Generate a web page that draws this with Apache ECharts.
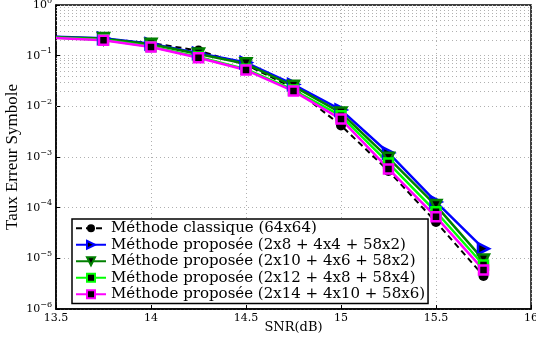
<!DOCTYPE html>
<html>
<head>
<meta charset="utf-8">
<script src="https://cdn.jsdelivr.net/npm/echarts@6/dist/echarts.min.js"></script>
<style>
    html, body { margin: 0; padding: 0; background: #fff; }
    #chart { width: 536px; height: 339px; }
</style>
</head>
<body>
<div id="chart"></div>
<script>
const snr = [13.5, 13.75, 14, 14.25, 14.5, 14.75, 15, 15.25, 15.5, 15.75]
const classique = [0.235, 0.215, 0.178, 0.126, 0.066, 0.023, 0.0042, 5.3e-4, 5.2e-5, 4.5e-6]
const prop1 = [0.235, 0.22, 0.172, 0.112, 0.073, 0.027, 0.0085, 1.2e-3, 1.3e-4, 1.55e-5]
const prop2 = [0.232, 0.217, 0.168, 0.108, 0.069, 0.025, 0.0074, 9.5e-4, 1.1e-4, 9.3e-6]
const prop3 = [0.226, 0.206, 0.152, 0.094, 0.054, 0.021, 0.0065, 7.6e-4, 8.3e-5, 7.4e-6]
const prop4 = [0.222, 0.202, 0.148, 0.091, 0.052, 0.02, 0.0056, 5.8e-4, 6.6e-5, 5.9e-6]
const names = [
    'Méthode classique (64x64)',
    'Méthode proposée (2x8 + 4x4 + 58x2)',
    'Méthode proposée (2x10 + 4x6 + 58x2)',
    'Méthode proposée (2x12 + 4x8 + 58x4)',
    'Méthode proposée (2x14 + 4x10 + 58x6)'
]
const xTicks = ['13.5', '14', '14.5', '15', '15.5', '16']

const serif = 'Liberation Serif'
const wide = 'DejaVu Serif'

// minor log grid lines (2..9 of each decade)
const minorLines = []
for (let k = -6; k < 0; k++) {
    for (let m = 2; m < 10; m++) {
        minorLines.push({ yAxis: m * Math.pow(10, k) })
    }
}

function pts(values) {
    return snr.map((x, i) => i === 0 ? { value: [x, values[i]], symbol: 'none' } : [x, values[i]])
}

function makeSeries(name, values, color, symbol, size, rotate, dashed) {
    return {
        name: name,
        type: 'line',
        data: pts(values),
        symbol: symbol,
        symbolSize: size,
        symbolRotate: rotate,
        showAllSymbol: true,
        lineStyle: { color: color, width: dashed ? 2 : 2.5, type: dashed ? [6, 4] : 'solid' },
        itemStyle: dashed
            ? { color: '#000' }
            : { color: '#000', borderColor: color, borderWidth: 2.5 },
        z: 3
    }
}

const chart = echarts.init(document.getElementById('chart'))
const series = [
    makeSeries(names[0], classique, '#000000', 'circle', 10, 0, true),
    makeSeries(names[1], prop1, '#0000ff', 'triangle', 11, -90, false),
    makeSeries(names[2], prop2, '#008000', 'triangle', 11, 180, false),
    makeSeries(names[3], prop3, '#00ff00', 'rect', 9, 0, false),
    makeSeries(names[4], prop4, '#ff00ff', 'rect', 9, 0, false)
]
series[0].markLine = {
    silent: true,
    symbol: 'none',
    label: { show: false },
    lineStyle: { color: '#b0b0b0', type: [1, 3], width: 1 },
    data: minorLines,
    z: 1
}

chart.setOption({
    animation: false,
    grid: {
        left: 56,
        right: 5,
        top: 5,
        bottom: 30,
        outerBoundsMode: 'none',
        show: true,
        borderColor: '#000',
        borderWidth: 1.5
    },
    legend: {
        orient: 'vertical',
        left: 72,
        top: 219,
        itemWidth: 30,
        itemHeight: 10,
        itemGap: 0,
        padding: [1, 3, 1, 3],
        backgroundColor: '#fff',
        borderColor: '#000',
        borderWidth: 1.5,
        textStyle: { fontFamily: wide, fontSize: 15, lineHeight: 16.5, color: '#000' },
        data: names
    },
    xAxis: {
        type: 'value',
        min: 13.5,
        max: 16,
        interval: 0.5,
        name: 'SNR(dB)',
        nameLocation: 'middle',
        nameGap: 12,
        nameMoveOverlap: false,
        nameTextStyle: { fontFamily: wide, fontSize: 13, color: '#000' },
        axisLine: { show: true, onZero: false, lineStyle: { color: '#000', width: 1.5 } },
        axisTick: { show: true, inside: true, length: 4, lineStyle: { color: '#000' } },
        axisLabel: {
            fontFamily: wide,
            fontSize: 11,
            color: '#000',
            margin: 4,
            formatter: function (v) {
                return xTicks[Math.round((v - 13.5) / 0.5)]
            }
        },
        splitLine: { show: true, lineStyle: { color: '#b0b0b0', type: [1, 3] } }
    },
    yAxis: {
        type: 'log',
        logBase: 10,
        min: 1e-6,
        max: 1,
        name: 'Taux Erreur Symbole',
        nameLocation: 'middle',
        nameGap: 35,
        nameMoveOverlap: false,
        nameTextStyle: { fontFamily: serif, fontSize: 17, color: '#000' },
        axisLine: { show: true, lineStyle: { color: '#000', width: 1.5 } },
        axisTick: { show: true, inside: true, length: 4, lineStyle: { color: '#000' } },
        axisLabel: {
            margin: 4,
            formatter: function (v) {
                const e = Math.round(Math.log10(v))
                return '{b|10}{e|' + (e < 0 ? '\u2212' + (-e) : e) + '}'
            },
            rich: {
                b: { fontFamily: wide, fontSize: 11, color: '#000' },
                e: { fontFamily: wide, fontSize: 8, color: '#000', padding: [0, 0, 9, 0] }
            }
        },
        splitLine: { show: true, lineStyle: { color: '#b0b0b0', type: [1, 3] } }
    },
    series: series
})
</script>
</body>
</html>
